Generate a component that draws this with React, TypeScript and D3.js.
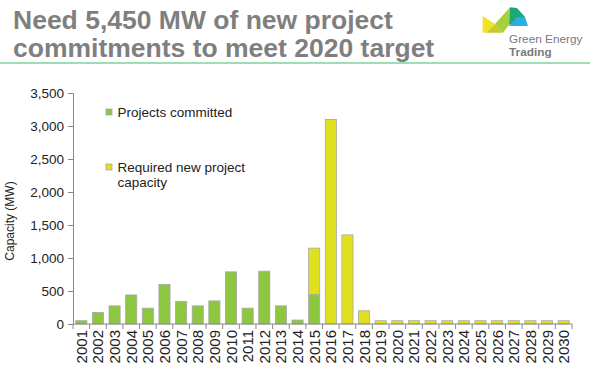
import { useRef, useEffect } from 'react';
import * as d3 from 'd3';

const years = [
  '2001', '2002', '2003', '2004', '2005', '2006', '2007', '2008', '2009', '2010',
  '2011', '2012', '2013', '2014', '2015', '2016', '2017', '2018', '2019', '2020',
  '2021', '2022', '2023', '2024', '2025', '2026', '2027', '2028', '2029', '2030',
];
const committed = [
  50, 175, 275, 440, 240, 600, 340, 275, 350, 790,
  240, 800, 275, 60, 450, 0, 0, 0, 0, 0,
  0, 0, 0, 0, 0, 0, 0, 0, 0, 0,
];
const required = [
  0, 0, 0, 0, 0, 0, 0, 0, 0, 0,
  0, 0, 0, 0, 700, 3100, 1350, 200, 50, 50,
  50, 50, 50, 50, 50, 50, 50, 50, 50, 50,
];
const yTicks = [0, 500, 1000, 1500, 2000, 2500, 3000, 3500];
const colors = ['#8dc63f', '#e0e01e'];

const W = 590;
const H = 367;
const margin = { top: 93, right: 18, bottom: 43, left: 73 };
const FONT = 'Arial, "Liberation Sans", sans-serif';

const App = () => {
  const svgRef = useRef<SVGSVGElement>(null);

  useEffect(() => {
    if (!svgRef.current) return;
    const svg = d3.select(svgRef.current);
    svg.selectAll('*').remove();

    const innerW = W - margin.left - margin.right;
    const innerH = H - margin.top - margin.bottom;

    // title
    const title = svg.append('g').attr('font-family', FONT).attr('font-weight', 'bold')
      .attr('font-size', 26.5).attr('fill', '#7f7f7f');
    title.append('text').attr('x', 13).attr('y', 29).text('Need 5,450 MW of new project');
    title.append('text').attr('x', 13).attr('y', 57).text('commitments to meet 2020 target');

    svg.append('line').attr('x1', 0).attr('x2', W).attr('y1', 63).attr('y2', 63)
      .attr('stroke', '#7fd39b').attr('stroke-width', 1.5);

    // logo
    const logo = svg.append('g');
    const shapes: [string, [number, number][]][] = [
      ['#f2e31e', [[482.7, 16], [495, 24], [486, 32.7], [482.7, 32.7]]],
      ['#c9c92a', [[486, 32.7], [495, 24], [503, 32.7]]],
      ['#a6cf3e', [[495, 24], [510, 7.3], [509, 25], [503, 32.7]]],
      ['#1aa873', [[510, 7.3], [517, 8], [525, 17], [509, 25]]],
      ['#2aaee4', [[517, 17], [525, 17], [528, 26], [509, 26]]],
    ];
    shapes.forEach(([c, pts]) => {
      logo.append('polygon').attr('points', pts.map((p) => p.join(',')).join(' ')).attr('fill', c);
    });
    logo.append('text').attr('x', 509).attr('y', 43).attr('font-family', FONT)
      .attr('font-size', 11.8).attr('fill', '#7a7a7a').text('Green Energy');
    logo.append('text').attr('x', 509).attr('y', 55.5).attr('font-family', FONT)
      .attr('font-size', 11.8).attr('font-weight', 'bold').attr('fill', '#7a7a7a').text('Trading');

    const g = svg.append('g').attr('transform', `translate(${margin.left},${margin.top})`);

    const x = d3.scaleBand().domain(years).range([0, innerW]).paddingInner(0.33).paddingOuter(0.165);
    const y = d3.scaleLinear().domain([0, 3500]).range([innerH, 0]);

    const data = years.map((yr, i) => ({ year: yr, committed: committed[i], required: required[i] }));
    const stacked = d3.stack<{ year: string; committed: number; required: number }>()
      .keys(['committed', 'required'])(data);

    stacked.forEach((layer, li) => {
      g.selectAll(`rect.s${li}`)
        .data(layer.filter((d) => d[1] - d[0] > 0))
        .join('rect')
        .attr('class', `s${li}`)
        .attr('x', (d) => x(d.data.year)!)
        .attr('width', x.bandwidth())
        .attr('y', (d) => y(d[1]))
        .attr('height', (d) => y(d[0]) - y(d[1]))
        .attr('fill', colors[li])
        .attr('stroke', '#a8a8a8')
        .attr('stroke-width', 0.8);
    });

    // y axis
    const yAxis = g.append('g')
      .call(d3.axisLeft(y).tickValues(yTicks).tickSize(5).tickFormat(d3.format(',')));
    yAxis.select('.domain').attr('stroke', '#888');
    yAxis.selectAll('line').attr('stroke', '#888');
    yAxis.selectAll('text').attr('font-family', FONT).attr('font-size', 13.5).attr('fill', '#222')
      .attr('x', -9);

    // x axis, ticks between categories
    const xAxis = g.append('g').attr('transform', `translate(0,${innerH})`);
    xAxis.append('line').attr('x1', 0).attr('x2', innerW).attr('stroke', '#888');
    d3.range(years.length + 1).forEach((i) => {
      const px = i * (innerW / years.length);
      xAxis.append('line').attr('x1', px).attr('x2', px).attr('y1', 0).attr('y2', 5).attr('stroke', '#888');
    });
    xAxis.selectAll('text.yr')
      .data(years)
      .join('text')
      .attr('class', 'yr')
      .attr('transform', (d) => `translate(${x(d)! + x.bandwidth() / 2 + 5.5},6) rotate(-90)`)
      .attr('text-anchor', 'end')
      .attr('font-family', FONT)
      .attr('font-size', 15)
      .attr('fill', '#222')
      .text((d) => d);

    // y label
    svg.append('text')
      .attr('transform', `translate(14,221) rotate(-90)`)
      .attr('text-anchor', 'middle')
      .attr('font-family', FONT)
      .attr('font-size', 12)
      .attr('fill', '#222')
      .text('Capacity (MW)');

    // legend
    const leg = svg.append('g').attr('font-family', FONT).attr('font-size', 13.5).attr('fill', '#222');
    leg.append('rect').attr('x', 106).attr('y', 109).attr('width', 6).attr('height', 6)
      .attr('fill', colors[0]).attr('stroke', '#a8a8a8').attr('stroke-width', 0.8);
    leg.append('text').attr('x', 117.5).attr('y', 117).text('Projects committed');
    leg.append('rect').attr('x', 106).attr('y', 164).attr('width', 6).attr('height', 6)
      .attr('fill', colors[1]).attr('stroke', '#a8a8a8').attr('stroke-width', 0.8);
    leg.append('text').attr('x', 117.5).attr('y', 172).text('Required new project');
    leg.append('text').attr('x', 117.5).attr('y', 187).text('capacity');
  }, []);

  return (
    <svg
      ref={svgRef}
      width={W}
      height={H}
      style={{ position: 'absolute', left: 0, top: 0, background: '#fff' }}
    />
  );
};

export default App;
